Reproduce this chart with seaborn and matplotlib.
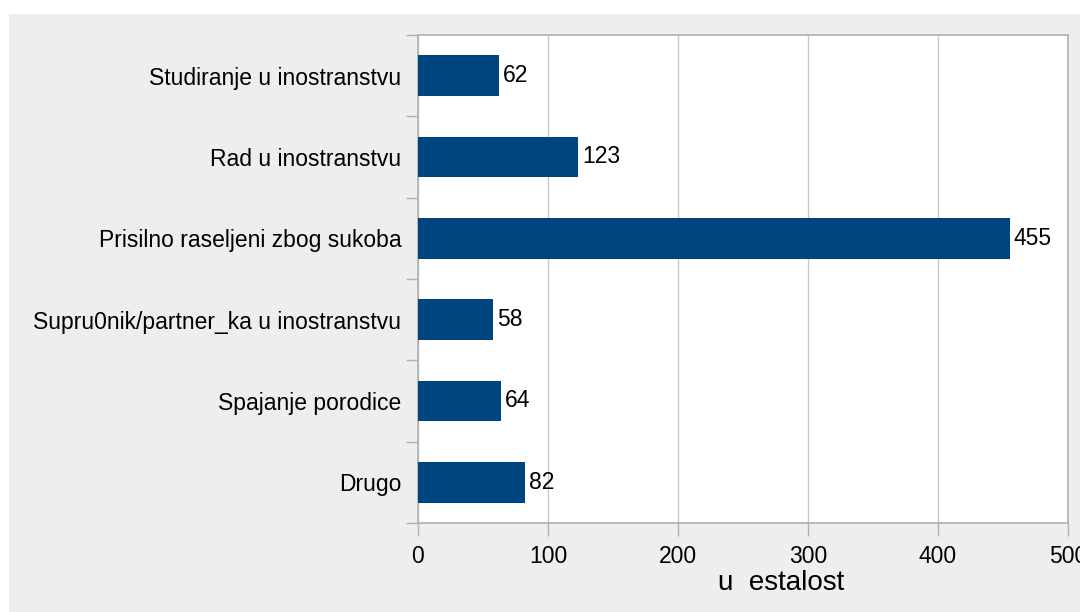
import matplotlib
matplotlib.use('Agg')
import matplotlib.pyplot as plt
import matplotlib.patches as mpatches
import numpy as np
import pandas as pd
import seaborn as sns

# Data
categories = ['Studiranje u inostranstvu', 'Rad u inostranstvu', 'Prisilno raseljeni zbog sukoba',
              'Supru0nik/partner_ka u inostranstvu', 'Spajanje porodice', 'Drugo']
values = [62, 123, 455, 58, 64, 82]
x_ticks = [0, 100, 200, 300, 400, 500]

df = pd.DataFrame({'kategorija': categories, 'vrijednost': values})

sns.set_theme(style="white")
plt.rcParams['font.family'] = ['Liberation Sans', 'DejaVu Sans']

fig = plt.figure(figsize=(10.8, 6.12), dpi=100)
fig.patch.set_facecolor('white')
# gray panel behind the chart
fig.patches.append(mpatches.Rectangle((9 / 1080, 0), 1 - 9 / 1080, 1 - 14 / 612,
                                      transform=fig.transFigure, facecolor='#eeeeee',
                                      edgecolor='none', zorder=-1))

ax = fig.add_axes([418 / 1080, 1 - 523 / 612, 650 / 1080, 488 / 612])
ax.set_facecolor('white')

sns.barplot(data=df, y='kategorija', x='vrijednost', orient='h', color='#00457f',
            width=0.5, saturation=1, linewidth=0, ax=ax, zorder=3)

ax.set_xlim(0, 500)
ax.set_ylim(len(categories) - 0.5, -0.5)
ax.set_xticks(x_ticks)
ax.set_xticklabels([str(t) for t in x_ticks], fontsize=16.5)
ax.grid(axis='x', color='#c8c8c8', linewidth=1, zorder=0)
ax.set_axisbelow(True)

# ticks on the category boundaries
ax.set_yticks(np.arange(len(categories) + 1) - 0.5, minor=True)
ax.tick_params(axis='y', which='major', length=0, pad=12, labelsize=16.5, labelcolor='black')
ax.tick_params(axis='y', which='minor', length=9, color='#b0b0b0', width=1, left=True)
ax.tick_params(axis='x', which='major', length=9, color='#b0b0b0', width=1, bottom=True,
               pad=7, labelcolor='black')

for side in ['left', 'bottom', 'top', 'right']:
    ax.spines[side].set_color('#b0b0b0')
    ax.spines[side].set_linewidth(1.2)

ax.set_ylabel('')
ax.set_xlabel('u  estalost', fontsize=20, color='black')
ax.xaxis.set_label_coords((781 - 418) / 650, -0.096)

for i, v in enumerate(values):
    ax.text(v + 3, i, str(v), va='center', ha='left', fontsize=16.5, color='black', zorder=4)

fig.savefig('out.png', dpi=100, facecolor=fig.get_facecolor())
